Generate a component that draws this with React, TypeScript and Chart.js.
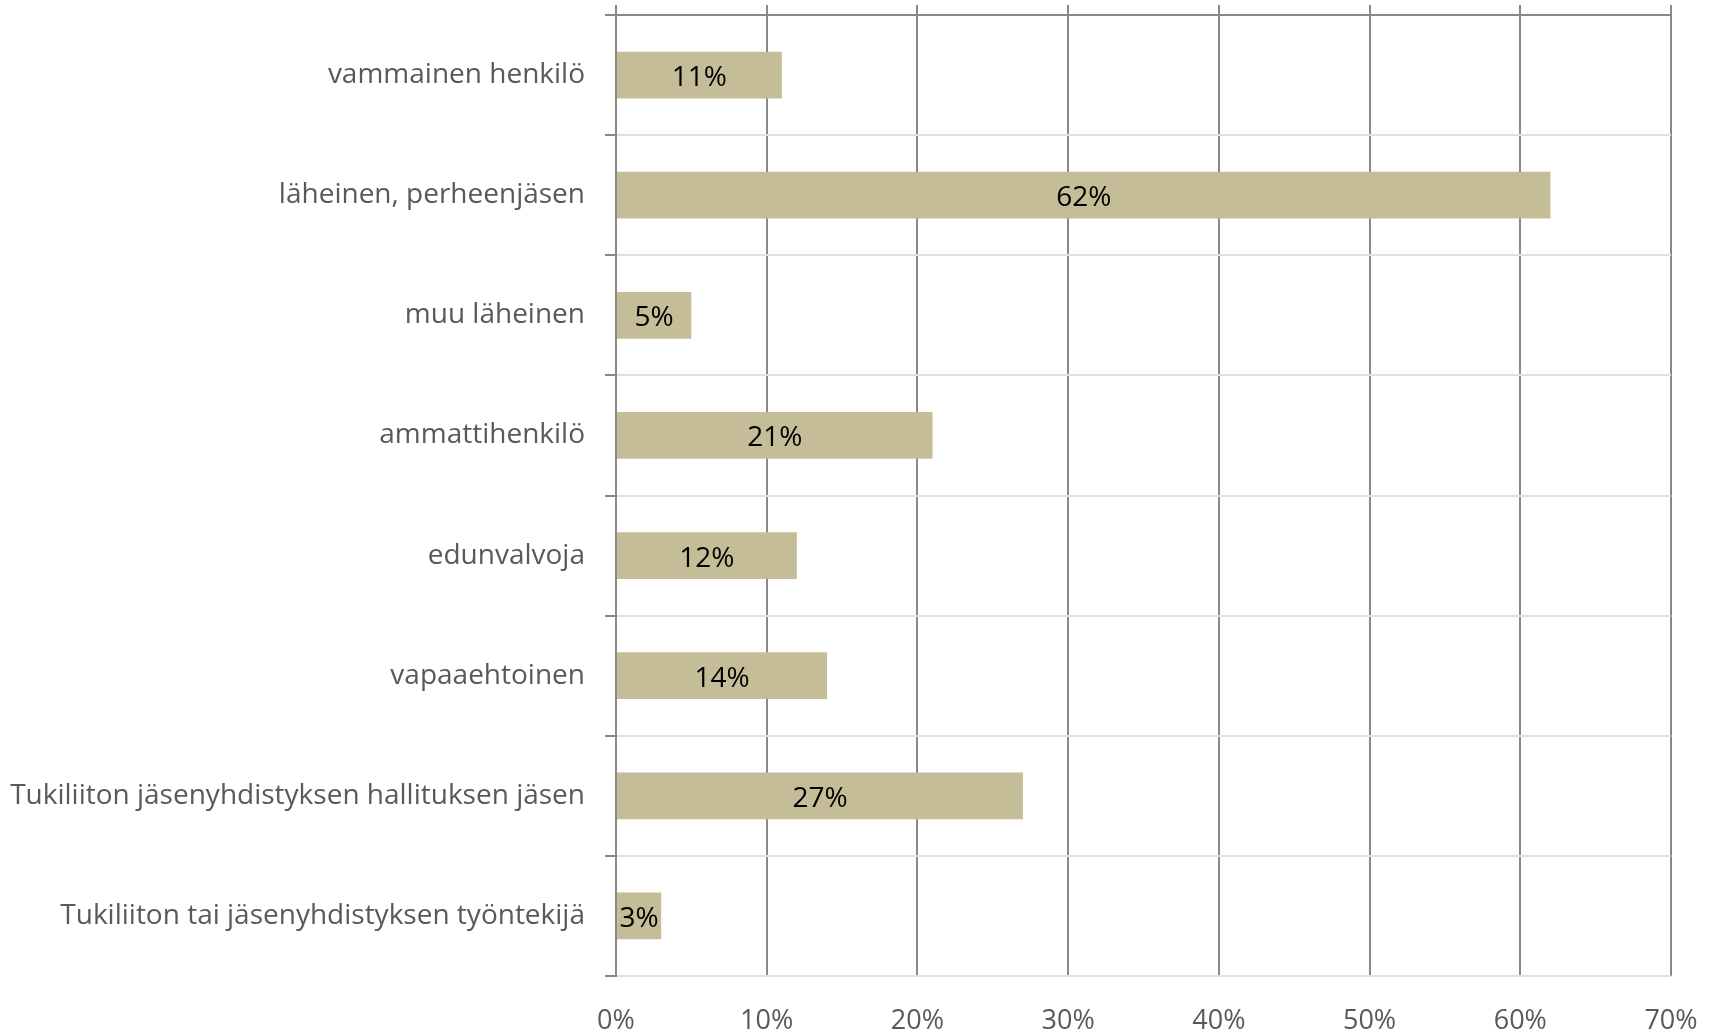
import React, { useEffect, useRef } from "react";
import { Chart, registerables } from "chart.js";

Chart.register(...registerables);

const categories = [
  "vammainen henkilö",
  "läheinen, perheenjäsen",
  "muu läheinen",
  "ammattihenkilö",
  "edunvalvoja",
  "vapaaehtoinen",
  "Tukiliiton jäsenyhdistyksen hallituksen jäsen",
  "Tukiliiton tai jäsenyhdistyksen työntekijä",
];

const values = [11, 62, 5, 21, 12, 14, 27, 3];

const xMin = 0;
const xMax = 70;
const xStep = 10;

const BAR_COLOR = "#c4bd97";
const DARK_GRID = "#898989";
const LIGHT_GRID = "#e0e0e0";
const TEXT_GRAY = "#595959";
const FONT = "'Open Sans'";

const barLabelPlugin = {
  id: "barLabels",
  afterDatasetsDraw(chart: any) {
    const ctx = chart.ctx;
    const meta = chart.getDatasetMeta(0);
    ctx.save();
    ctx.font = `28px ${FONT}`;
    ctx.fillStyle = "#000000";
    ctx.textAlign = "center";
    ctx.textBaseline = "middle";
    meta.data.forEach((bar: any, i: number) => {
      const p = bar.getProps(["x", "y", "base"], true);
      ctx.fillText(values[i] + "%", (p.x + p.base) / 2, p.y + 3);
    });
    ctx.restore();
  },
};

export default function App() {
  const ref = useRef<HTMLCanvasElement | null>(null);

  useEffect(() => {
    if (!ref.current) return;
    const chart = new Chart(ref.current, {
      type: "bar",
      data: {
        labels: categories,
        datasets: [
          {
            data: values,
            backgroundColor: BAR_COLOR,
            borderWidth: 0,
            barPercentage: 0.39,
            categoryPercentage: 1,
          },
        ],
      },
      options: {
        indexAxis: "y",
        animation: false,
        responsive: false,
        layout: { padding: { top: 5, right: 49, bottom: 0, left: 0 } },
        plugins: {
          legend: { display: false },
          tooltip: { enabled: false },
        },
        scales: {
          x: {
            type: "linear",
            position: "bottom",
            min: xMin,
            max: xMax,
            ticks: {
              stepSize: xStep,
              padding: 29,
              color: TEXT_GRAY,
              font: { family: FONT, size: 27 },
              callback: (v: any) => v + "%",
            },
            grid: {
              color: DARK_GRID,
              lineWidth: 2,
              drawTicks: false,
            },
            border: { display: false },
            afterFit: (s: any) => {
              s.height = 56;
              s.paddingLeft = 0;
              s.paddingRight = 0;
            },
          },
          x2: {
            type: "linear",
            axis: "x",
            position: "top",
            min: xMin,
            max: xMax,
            ticks: { stepSize: xStep, display: false },
            grid: {
              color: DARK_GRID,
              lineWidth: 2,
              drawOnChartArea: false,
              drawTicks: true,
              tickLength: 10,
            },
            border: { display: false },
            afterFit: (s: any) => {
              s.height = 10;
              s.paddingLeft = 0;
              s.paddingRight = 0;
            },
          },
          y: {
            type: "category",
            position: "left",
            ticks: {
              padding: 20,
              color: TEXT_GRAY,
              font: { family: FONT, size: 28 },
            },
            grid: {
              color: (c: any) => (c.index === 0 ? DARK_GRID : LIGHT_GRID),
              tickColor: DARK_GRID,
              lineWidth: 2,
              tickLength: 11,
              offset: true,
            },
            border: { color: DARK_GRID, width: 2 },
            afterFit: (s: any) => {
              s.width = 616;
              s.paddingTop = 0;
              s.paddingBottom = 0;
            },
          },
        },
      } as any,
      plugins: [barLabelPlugin],
    });
    return () => chart.destroy();
  }, []);

  return (
    <div style={{ position: "fixed", left: 0, top: 0, width: 1720, height: 1032, background: "#ffffff" }}>
      <canvas ref={ref} width={1720} height={1032} />
    </div>
  );
}
